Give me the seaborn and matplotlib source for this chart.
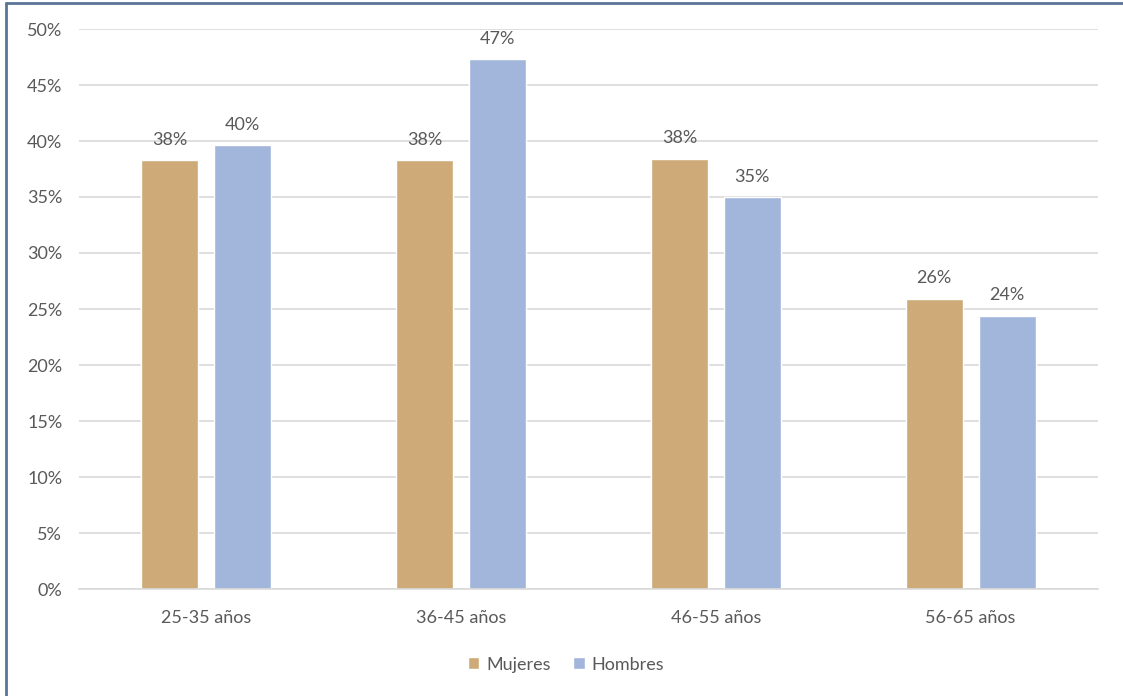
import matplotlib
matplotlib.use("Agg")
import matplotlib.pyplot as plt
import numpy as np
import pandas as pd
import seaborn as sns
from matplotlib.lines import Line2D
from matplotlib.ticker import PercentFormatter

grupos = ["25-35 años", "36-45 años", "46-55 años", "56-65 años"]
mujeres = [38.3, 38.3, 38.4, 25.9]
hombres = [39.6, 47.3, 35.0, 24.4]
series = ["Mujeres", "Hombres"]
colores = ["#CDAA78", "#A2B5DA"]

df = pd.DataFrame({
    "grupo": grupos * 2,
    "serie": [series[0]] * 4 + [series[1]] * 4,
    "valor": mujeres + hombres,
})

sns.set_style("white")
plt.rcParams["font.family"] = ["Lato", "DejaVu Sans"]
gris = "#595959"

fig = plt.figure(figsize=(11.23, 6.96), dpi=100)
ax = fig.add_axes([79 / 1123, 107 / 696, (1098 - 79) / 1123, 560 / 696])

sns.barplot(data=df, x="grupo", y="valor", hue="serie", palette=colores,
            saturation=1, width=0.573, gap=0.22, ax=ax, legend=True)

ax.set_ylim(0, 50)
ax.set_xlim(-0.5, 3.5)
ax.set_yticks(np.arange(0, 51, 5))
ax.yaxis.set_major_formatter(PercentFormatter(decimals=0))
ax.grid(axis="y", color="#D9D9D9", linewidth=1.2)
ax.set_axisbelow(True)
for s in ["top", "right", "left"]:
    ax.spines[s].set_visible(False)
ax.spines["bottom"].set_color("#D9D9D9")
ax.spines["bottom"].set_linewidth(1.2)
ax.tick_params(axis="y", length=0, pad=12, labelsize=13, labelcolor=gris)
ax.tick_params(axis="x", length=0, pad=15, labelsize=13, labelcolor=gris)
ax.set_xlabel("")
ax.set_ylabel("")

for cont in ax.containers:
    for bar in cont:
        h = bar.get_height()
        ax.annotate(f"{h:.0f}%", (bar.get_x() + bar.get_width() / 2, h),
                    xytext=(0, 9), textcoords="offset points",
                    ha="center", va="bottom", fontsize=13, color=gris)

ax.legend(loc="center", bbox_to_anchor=(0.478, -0.135), ncol=2, frameon=False,
          fontsize=13, labelcolor=gris, handlelength=0.65, handleheight=0.65,
          handletextpad=0.4, columnspacing=1.2)

# frame lines of the chart area (cropped screenshot)
borde = "#5A7596"
fig.add_artist(Line2D([6 / 1123, 1], [1 - 3 / 696, 1 - 3 / 696], color=borde, linewidth=2,
                      transform=fig.transFigure))
fig.add_artist(Line2D([6 / 1123, 6 / 1123], [0, 1 - 3 / 696], color=borde, linewidth=2,
                      transform=fig.transFigure))

fig.savefig("out.png", dpi=100)
